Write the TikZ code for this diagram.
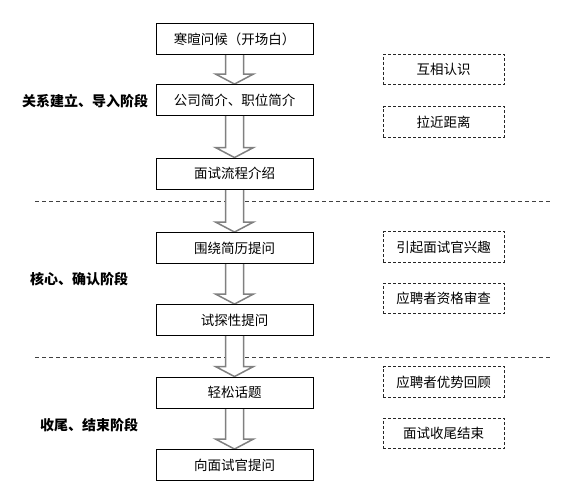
\documentclass[tikz,border=0pt]{standalone}
\usepackage{fontspec}
\newfontfamily\cjk{Noto Sans CJK SC}
\usetikzlibrary{calc,backgrounds}
\begin{document}
\begin{tikzpicture}[x=1pt,y=-1pt,
  stepbox/.style={draw=black, line width=0.9pt, fill=white, minimum width=157pt, minimum height=31pt, inner sep=0pt, font=\cjk\fontsize{13.5}{15}\selectfont},
  notebox/.style={draw=black!85, dash pattern=on 3pt off 2pt, line width=0.8pt, minimum width=121pt, minimum height=30.5pt, inner sep=0pt, font=\cjk\fontsize{13.5}{15}\selectfont},
  phase/.style={font=\cjk\bfseries\fontsize{14}{16}\selectfont, inner sep=0pt},
  sepline/.style={draw=black!75, dash pattern=on 4pt off 3pt, line width=0.8pt},
  blockarrow/.style={draw=black!50, line width=1.5pt, fill=white, line join=miter}]
\useasboundingbox (0,0) rectangle (578,497);
% main steps
\node[stepbox] (s1) at (234.5,39) {寒暄问候（开场白）};
\node[stepbox] (s2) at (234.5,100) {公司简介、职位简介};
\node[stepbox] (s3) at (234.5,173.5) {面试流程介绍};
\node[stepbox] (s4) at (234.5,248) {围绕简历提问};
\node[stepbox] (s5) at (234.5,320) {试探性提问};
\node[stepbox] (s6) at (234.5,392.5) {轻松话题};
\node[stepbox] (s7) at (234.5,465) {向面试官提问};
% notes
\node[notebox] (n1) at (443.5,69.5) {互相认识};
\node[notebox] (n2) at (443.5,122) {拉近距离};
\node[notebox] (n3) at (443.5,247) {引起面试官兴趣};
\node[notebox] (n4) at (443.5,298.5) {应聘者资格审查};
\node[notebox] (n5) at (443.5,382) {应聘者优势回顾};
\node[notebox] (n6) at (443.5,433.5) {面试收尾结束};
% phases
\node[phase] (p1) at (85,101) {关系建立、导入阶段};
\node[phase] (p2) at (79,279) {核心、确认阶段};
\node[phase] (p3) at (89,425) {收尾、结束阶段};
\begin{pgfonlayer}{background}
% separators
\draw[sepline] (35,201) -- (550,201);
\draw[sepline] (35,357) -- (550,357);
% block arrows
\foreach \a/\b in {s1/s2,s2/s3,s3/s4,s4/s5,s5/s6,s6/s7}{
  \draw[blockarrow] ($(\a.south)+(-9,0)$) -- ($(\b.north)+(-9,-10)$) -- ($(\b.north)+(-19,-10)$) -- (\b.north) -- ($(\b.north)+(19,-10)$) -- ($(\b.north)+(9,-10)$) -- ($(\a.south)+(9,0)$);
}
\end{pgfonlayer}
\end{tikzpicture}
\end{document}
